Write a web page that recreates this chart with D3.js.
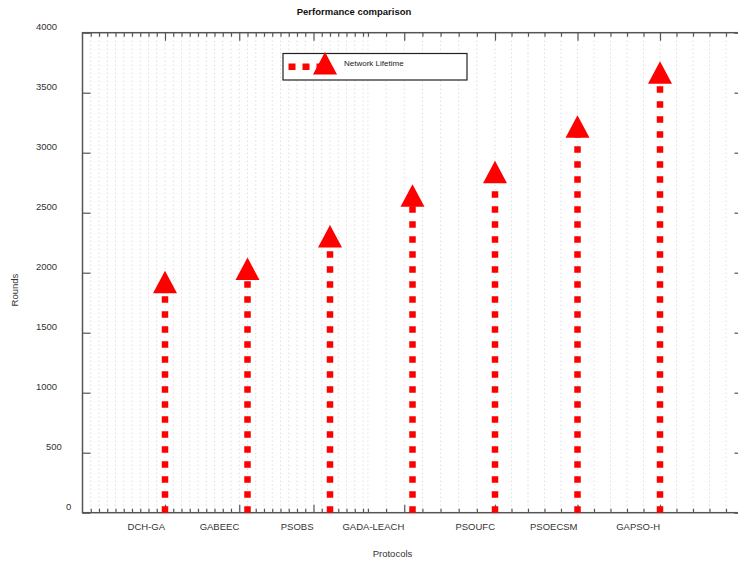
<!DOCTYPE html>
<html>
<head>
<meta charset="utf-8">
<script src="https://cdn.jsdelivr.net/npm/d3@7"></script>
<style>
  body { margin: 0; background: #fff; }
  text { font-family: 'Liberation Sans', Arial, sans-serif; }
</style>
</head>
<body>
<div id="chart"></div>
<script>
// data
const categories = ['DCH-GA', 'GABEEC', 'PSOBS', 'GADA-LEACH', 'PSOUFC', 'PSOECSM', 'GAPSO-H']
const lifetime = [1922, 2032, 2304, 2643, 2838, 3217, 3668]
const labelTicks = [1, 1.9, 2.8, 3.9, 5, 6, 7]   // where the category labels sit on the x axis
const yTicks = [0, 500, 1000, 1500, 2000, 2500, 3000, 3500, 4000]
const seriesName = 'Network Lifetime'

const width = 738
const height = 561
const margin = {top: 32.7, right: -4.5, bottom: 48.3, left: 82.5}
const red = '#ff0000'
const axisColor = '#555'

const svg = d3.select('#chart').append('svg')
    .attr('width', width)
    .attr('height', height)

const x = d3.scaleLinear().domain([0, 8]).range([margin.left, width - margin.right])
const y = d3.scaleLinear().domain([0, 4000]).range([height - margin.bottom, margin.top])

// minor tics: fine steps on the left part, five subdivisions between the later labels
let minor = d3.range(1, 35).map(function (k) { return k / 10 })
const coarse = [2.8, 3.9, 5, 6, 7, 8]
for (let i = 0; i < coarse.length - 1; i++) {
  const a = coarse[i], b = coarse[i + 1]
  for (let k = 1; k < 5; k++) {
    const v = a + (b - a) * k / 5
    if (v > 3.42) minor.push(v)
  }
}
minor = minor.filter(function (v) {
  return !labelTicks.some(function (t) { return Math.abs(t - v) < 0.04 })
})

// vertical dotted grid
svg.append('g').selectAll('line')
    .data(minor.concat(labelTicks))
  .enter().append('line')
    .attr('x1', function (d) { return x(d) })
    .attr('x2', function (d) { return x(d) })
    .attr('y1', y(4000))
    .attr('y2', y(0))
    .attr('stroke', '#cfcfcf')
    .attr('stroke-width', 1)
    .attr('stroke-dasharray', '1,3')

// frame
svg.append('rect')
    .attr('x', x(0))
    .attr('y', y(4000))
    .attr('width', x(8) - x(0))
    .attr('height', y(0) - y(4000))
    .attr('fill', 'none')
    .attr('stroke', axisColor)
    .attr('stroke-width', 1.5)

// x tics, bottom and top
const xBottom = d3.axisBottom(x).tickValues(minor).tickSize(-4).tickFormat('')
const xBottomMajor = d3.axisBottom(x).tickValues(labelTicks).tickSize(-8).tickFormat('')
const xTop = d3.axisTop(x).tickValues(minor).tickSize(-4).tickFormat('')
const xTopMajor = d3.axisTop(x).tickValues(labelTicks).tickSize(-8).tickFormat('')

svg.append('g').attr('transform', 'translate(0,' + y(0) + ')').call(xBottom)
svg.append('g').attr('transform', 'translate(0,' + y(0) + ')').call(xBottomMajor)
svg.append('g').attr('transform', 'translate(0,' + y(4000) + ')').call(xTop)
svg.append('g').attr('transform', 'translate(0,' + y(4000) + ')').call(xTopMajor)

// y tics, left and right
const yLeft = d3.axisLeft(y).tickValues(yTicks).tickSize(-8).tickFormat('')
const yRight = d3.axisRight(y).tickValues(yTicks).tickSize(-8).tickFormat('')
svg.append('g').attr('transform', 'translate(' + x(0) + ',0)').call(yLeft)
svg.append('g').attr('transform', 'translate(' + x(8) + ',0)').call(yRight)

svg.selectAll('.domain').remove()
svg.selectAll('.tick line').attr('stroke', axisColor).attr('stroke-width', 1.2)

// y tick labels (sit a little above their tics)
svg.append('g').selectAll('text')
    .data(yTicks)
  .enter().append('text')
    .attr('x', function (d) { return 76 - 10 * String(d).length })
    .attr('y', function (d) { return y(d) - 2.5 })
    .attr('font-size', 9.5)
    .attr('fill', '#333')
    .text(function (d) { return d })

// category labels, right-aligned on their tics
svg.append('g').selectAll('text')
    .data(categories)
  .enter().append('text')
    .attr('x', function (d, i) { return x(labelTicks[i]) })
    .attr('y', y(0) + 17)
    .attr('text-anchor', 'end')
    .attr('font-size', 9.5)
    .attr('fill', '#333')
    .text(function (d) { return d })

// triangle point, centred on the value
const triangle = {
  draw: function (ctx) {
    ctx.moveTo(0, -11.3)
    ctx.lineTo(12, 11.2)
    ctx.lineTo(-12, 11.2)
    ctx.closePath()
  }
}
const tri = d3.symbol().type(triangle)

// stems: thick dashed line from zero up to the value, triangle on top
categories.forEach(function (c, i) {
  svg.append('line')
      .attr('x1', x(i + 1))
      .attr('x2', x(i + 1))
      .attr('y1', y(0))
      .attr('y2', y(lifetime[i]))
      .attr('stroke', red)
      .attr('stroke-width', 6.5)
      .attr('stroke-dasharray', '6.5,8.5')
})

svg.append('g').selectAll('path')
    .data(lifetime)
  .enter().append('path')
    .attr('d', tri)
    .attr('transform', function (d, i) { return 'translate(' + x(i + 1) + ',' + y(d) + ')' })
    .attr('fill', red)

// legend
const lg = svg.append('g')
lg.append('rect')
    .attr('x', 283)
    .attr('y', 53.5)
    .attr('width', 184)
    .attr('height', 26.5)
    .attr('fill', '#fff')
    .attr('stroke', '#222')
    .attr('stroke-width', 1.2)
lg.append('line')
    .attr('x1', 288.5)
    .attr('x2', 325)
    .attr('y1', 66.7)
    .attr('y2', 66.7)
    .attr('stroke', red)
    .attr('stroke-width', 6.5)
    .attr('stroke-dasharray', '7,7')
lg.append('path')
    .attr('d', tri)
    .attr('transform', 'translate(325,63.3)')
    .attr('fill', red)
lg.append('text')
    .attr('x', 344)
    .attr('y', 65.5)
    .attr('font-size', 8)
    .attr('fill', '#222')
    .text(seriesName)

// titles
svg.append('text')
    .attr('x', 354)
    .attr('y', 15)
    .attr('text-anchor', 'middle')
    .attr('font-size', 9.5)
    .attr('font-weight', 'bold')
    .attr('fill', '#111')
    .text('Performance comparison')

svg.append('text')
    .attr('x', 392.5)
    .attr('y', 557)
    .attr('text-anchor', 'middle')
    .attr('font-size', 9.5)
    .attr('fill', '#333')
    .text('Protocols')

svg.append('text')
    .attr('transform', 'translate(17.5,290)rotate(-90)')
    .attr('text-anchor', 'middle')
    .attr('font-size', 9.5)
    .attr('fill', '#333')
    .text('Rounds')
</script>
</body>
</html>
